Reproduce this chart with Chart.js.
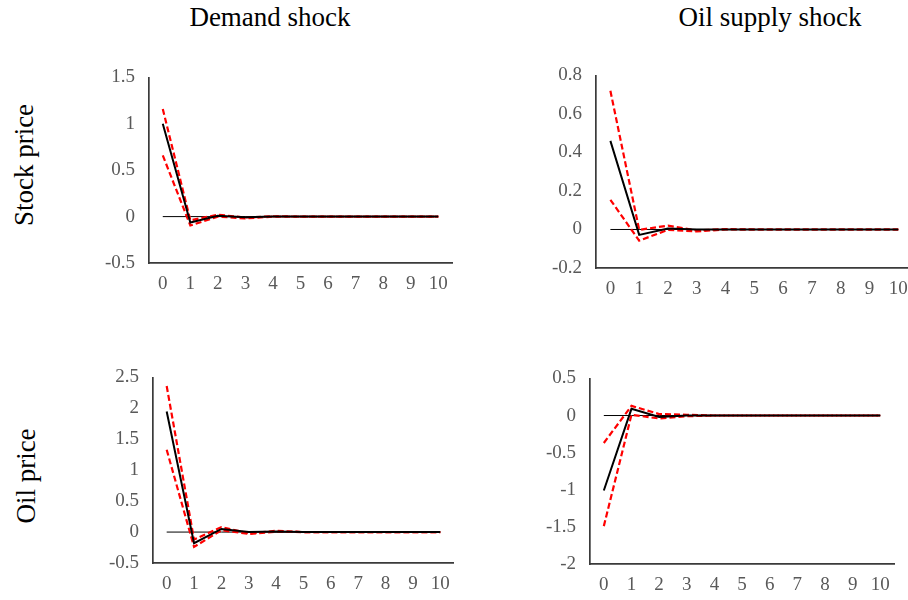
<!DOCTYPE html>
<html>
<head>
<meta charset="utf-8">
<script src="https://cdn.jsdelivr.net/npm/chart.js@4.4.1/dist/chart.umd.min.js"></script>
<style>
    html, body { margin: 0; padding: 0; background: #fff; overflow: hidden; }
    body { width: 908px; height: 600px; position: relative; font-family: 'Liberation Serif', 'Times New Roman', serif; }
    .panel { position: absolute; }
    .col-title { position: absolute; font-size: 27px; color: #000; white-space: nowrap; transform: translateX(-50%); }
    .row-title { position: absolute; font-size: 27px; color: #000; white-space: nowrap; transform: translate(-50%, -50%) rotate(-90deg); }
</style>
</head>
<body>

<div class="col-title" style="left:270px; top:2px;">Demand shock</div>
<div class="col-title" style="left:770px; top:2px;">Oil supply shock</div>
<div class="row-title" style="left:24px; top:165px;">Stock price</div>
<div class="row-title" style="left:26px; top:476px;">Oil price</div>

<div class="panel" style="left:95px; top:52px; width:363px; height:248px;"><canvas id="stockDemand"></canvas></div>
<div class="panel" style="left:542px; top:50px; width:376px; height:255px;"><canvas id="stockSupply"></canvas></div>
<div class="panel" style="left:99px; top:352px; width:361px; height:248px;"><canvas id="oilDemand"></canvas></div>
<div class="panel" style="left:536px; top:353px; width:364px; height:248px;"><canvas id="oilSupply"></canvas></div>

<script>
// ========== 数据 ==========
const horizons = ['0', '1', '2', '3', '4', '5', '6', '7', '8', '9', '10'];
const zeroLine = [0, 0, 0, 0, 0, 0, 0, 0, 0, 0, 0];

// 股价 - 需求冲击
const stockDemandIrf = [1.0, -0.064, 0.01, -0.007, 0, 0, 0, 0, 0, 0, 0];
const stockDemandUpper = [1.16, -0.04, 0.02, -0.01, 0.003, 0, 0, 0, 0, 0, 0];
const stockDemandLower = [0.66, -0.096, 0.0, -0.02, 0, 0, 0, 0, 0, 0, 0];
const stockDemandTicks = [-0.5, 0, 0.5, 1, 1.5];

// 股价 - 石油供给冲击
const stockSupplyIrf = [0.46, -0.028, 0.005, 0, 0, 0, 0, 0, 0, 0, 0];
const stockSupplyUpper = [0.72, -0.002, 0.02, -0.005, 0.002, 0, 0, 0, 0, 0, 0];
const stockSupplyLower = [0.154, -0.058, -0.002, -0.01, 0, 0, 0, 0, 0, 0, 0];
const stockSupplyTicks = [-0.2, 0, 0.2, 0.4, 0.6, 0.8];

// 油价 - 需求冲击
const oilDemandIrf = [1.95, -0.18, 0.05, 0, 0.01, 0, 0, 0, 0, 0, 0];
const oilDemandUpper = [2.36, -0.12, 0.08, -0.02, 0.02, 0, 0, 0, 0, 0, 0];
const oilDemandLower = [1.33, -0.24, 0.03, -0.03, 0.005, 0, 0, 0, 0, 0, 0];
const oilDemandTicks = [-0.5, 0, 0.5, 1, 1.5, 2, 2.5];

// 油价 - 石油供给冲击
const oilSupplyIrf = [-1.01, 0.09, -0.02, 0, 0, 0, 0, 0, 0, 0, 0];
const oilSupplyUpper = [-0.37, 0.13, 0.02, 0.01, 0, 0, 0, 0, 0, 0, 0];
const oilSupplyLower = [-1.49, 0.01, -0.04, -0.01, 0, 0, 0, 0, 0, 0, 0];
const oilSupplyTicks = [-2, -1.5, -1, -0.5, 0, 0.5];

// ========== 绘图 ==========
const tickFont = { family: "'Liberation Serif', 'Times New Roman', serif", size: 19 };
const tickColor = '#595959';
const axisColor = '#3a3a3a';

function makeChart(id, irf, upper, lower, ticks) {
    const ctx = document.getElementById(id).getContext('2d');
    return new Chart(ctx, {
        type: 'line',
        data: {
            labels: horizons,
            datasets: [
                { data: irf, borderColor: '#000', borderWidth: 2, pointRadius: 0, tension: 0, order: 0 },
                { data: upper, borderColor: '#ff0000', borderWidth: 2.2, borderDash: [6, 3], pointRadius: 0, tension: 0, order: 1 },
                { data: lower, borderColor: '#ff0000', borderWidth: 2.2, borderDash: [6, 3], pointRadius: 0, tension: 0, order: 2 },
                { data: zeroLine, borderColor: '#000', borderWidth: 1, pointRadius: 0, tension: 0, order: 3 }
            ]
        },
        options: {
            responsive: true,
            maintainAspectRatio: false,
            animation: false,
            layout: { padding: { top: 10, right: 5, left: 0, bottom: 0 } },
            plugins: { legend: { display: false }, tooltip: { enabled: false } },
            scales: {
                x: {
                    offset: true,
                    grid: { display: false, drawTicks: false },
                    border: { display: true, color: axisColor, width: 1.7 },
                    ticks: { color: tickColor, font: tickFont, padding: 10, maxRotation: 0, autoSkip: false },
                    afterFit: s => { s.height = 37; }
                },
                y: {
                    min: ticks[0],
                    max: ticks[ticks.length - 1],
                    grid: { display: false, drawTicks: false },
                    border: { display: true, color: axisColor, width: 1.7 },
                    ticks: { color: tickColor, font: tickFont, padding: 14, callback: v => String(v) },
                    afterBuildTicks: s => { s.ticks = ticks.map(v => ({ value: v })); },
                    afterFit: s => { s.width = 54; }
                }
            }
        }
    });
}

makeChart('stockDemand', stockDemandIrf, stockDemandUpper, stockDemandLower, stockDemandTicks);
makeChart('stockSupply', stockSupplyIrf, stockSupplyUpper, stockSupplyLower, stockSupplyTicks);
makeChart('oilDemand', oilDemandIrf, oilDemandUpper, oilDemandLower, oilDemandTicks);
makeChart('oilSupply', oilSupplyIrf, oilSupplyUpper, oilSupplyLower, oilSupplyTicks);
</script>
</body>
</html>
